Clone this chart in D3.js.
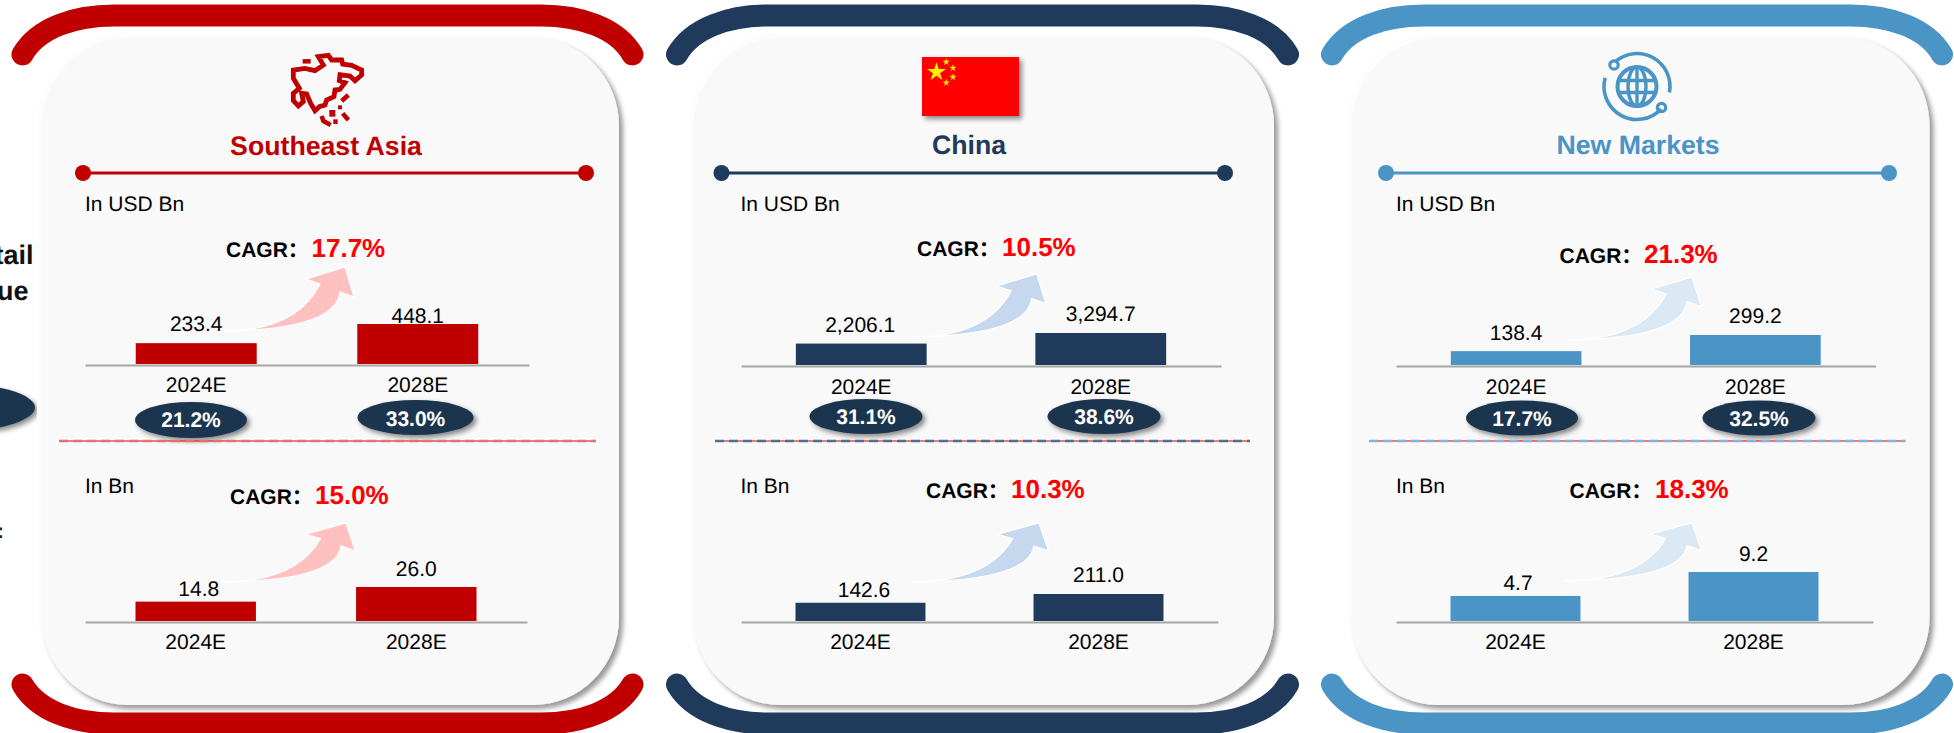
<!DOCTYPE html>
<html>
<head>
<meta charset="utf-8">
<script src="https://cdn.jsdelivr.net/npm/d3@7"></script>
<style>
html,body{margin:0;padding:0;background:#fff;overflow:hidden}
svg{display:block}
text{font-family:"Liberation Sans",Arial,"Noto Sans CJK SC",sans-serif;text-rendering:geometricPrecision}
</style>
</head>
<body>
<svg id="chart" width="1954" height="733"></svg>
<script>
// Market figures by region
const years = ["2024E", "2028E"];
const regions = ["Southeast Asia", "China", "New Markets"];
const gmvUsdBn = [[233.4, 448.1], [2206.1, 3294.7], [138.4, 299.2]];
const gmvCagr = ["17.7%", "10.5%", "21.3%"];
const penetration = [["21.2%", "33.0%"], ["31.1%", "38.6%"], ["17.7%", "32.5%"]];
const buyersBn = [[14.8, 26.0], [142.6, 211.0], [4.7, 9.2]];
const buyersCagr = ["15.0%", "10.3%", "18.3%"];

// Panel colours
const mainColors = ["#c00000", "#1f3a5a", "#4a94c6"];
const arrowColors = ["#ffc0c0", "#c5d8ee", "#dbe9f4"];
const dashColors = ["#e86f70", "#4f6f92", "#7fb6de"];

// Panel geometry
const panels = [
  { card: [42, 619], bracket: [22.5, 632.5], titleX: 326, titleY: 155, rule: [83, 586], dash: [59, 596], unitX: 85,
    upper: { axis: [85, 529], axisY: 365, barMax: 40, tickPad: 12, cagr: [226, 311.5, 257], arrow: [223, 331, 345, 267],
      lift: [12, 1], labelDx: [0, 0], ovals: [[191, 420, 56, 18, 427], [415.5, 417.5, 58, 17.5, 426]] },
    lower: { axis: [85, 527], axisY: 622, barMax: 34, tickPad: 12, cagr: [230, 315, 504], arrow: [221, 582, 346, 523],
      lift: [5.6, 11], labelDx: [3, 0] } },
  { card: [694, 1274], bracket: [677, 1288], titleX: 969, titleY: 154, rule: [721.5, 1225], dash: [715, 1250], unitX: 740.5,
    upper: { axis: [741, 1221], axisY: 366, barMax: 32, tickPad: 13, cagr: [917, 1002, 256], arrow: [912.5, 337, 1036.7, 274],
      lift: [11.6, 12], labelDx: [-1, 0], ovals: [[866, 416.5, 56.5, 17.5, 424], [1104, 416.5, 56.5, 17.5, 424]] },
    lower: { axis: [741, 1218], axisY: 622, barMax: 27, tickPad: 12, cagr: [926, 1011, 498], arrow: [910.5, 582, 1039, 523],
      lift: [5.8, 12], labelDx: [3.5, 0] } },
  { card: [1352, 1929.5], bracket: [1332, 1942], titleX: 1638, titleY: 154, rule: [1386, 1889], dash: [1369, 1905.5], unitX: 1396,
    upper: { axis: [1396, 1875.5], axisY: 366, barMax: 30, tickPad: 13, cagr: [1559.5, 1644, 263], arrow: [1567, 340, 1692, 277],
      lift: [11, 12], labelDx: [0, 0], ovals: [[1522, 418, 56, 17.5, 426], [1759, 418, 56.5, 17.5, 426]] },
    lower: { axis: [1396, 1873], axisY: 622, barMax: 49, tickPad: 12, cagr: [1569.5, 1655, 498], arrow: [1563.5, 581, 1692, 523],
      lift: [6, 11], labelDx: [2.5, 0] } }
];

const svg = d3.select("#chart");
const defs = svg.append("defs");

// Soft shadows for the cards, the ovals and the flag
function shadow(id, dx, dy, blur, opacity) {
  defs.append("filter").attr("id", id)
    .attr("x", "-20%").attr("y", "-20%").attr("width", "140%").attr("height", "140%")
    .append("feDropShadow")
    .attr("dx", dx).attr("dy", dy).attr("stdDeviation", blur)
    .attr("flood-color", "#000").attr("flood-opacity", opacity);
}
shadow("cardShadow", 4, 4, 2.5, 0.4);
shadow("ovalShadow", 3, 3, 2.5, 0.45);

// Growth arrows fade in from white at the tail
arrowColors.forEach((c, i) => {
  const g = defs.append("linearGradient").attr("id", "arrowFill" + i)
    .attr("x1", 0).attr("y1", 0).attr("x2", 1).attr("y2", 0);
  g.append("stop").attr("offset", 0).attr("stop-color", "#fff");
  g.append("stop").attr("offset", 0.12).attr("stop-color", c);
});

// Text that runs in from the neighbouring section at the left edge
const edge = svg.append("g");
edge.selectAll("text.lead").data(["Retail", "Revenue"]).join("text")
  .attr("class", "lead").attr("x", (d, i) => i ? 28.5 : 33.5).attr("y", (d, i) => i ? 300 : 264)
  .attr("text-anchor", "end").attr("font-weight", 700).attr("font-size", 27).attr("fill", "#111").text(d => d);
edge.append("ellipse").attr("cx", -55).attr("cy", 407.5).attr("rx", 90).attr("ry", 25)
  .attr("fill", "#1f3650").attr("filter", "url(#ovalShadow)");
edge.append("text").attr("x", -3).attr("y", 538).attr("font-size", 21).attr("font-weight", 700).attr("fill", "#222").text(":");

// Curved brace above and below a card
function bracePath(x0, x1, yEnd, yFlat) {
  const k = yFlat < yEnd ? 1 : -1;
  const f = d3.path();
  f.moveTo(x0, yEnd);
  f.bezierCurveTo(x0 + 15.5, yEnd - 27 * k, x0 + 52.5, yFlat, x0 + 91.5, yFlat);
  f.lineTo(x1 - 91.5, yFlat);
  f.bezierCurveTo(x1 - 52.5, yFlat, x1 - 15.5, yEnd - 27 * k, x1, yEnd);
  return f.toString();
}

// Tapered arrow, its outline given as fractions of the tail-to-tip box
function arrowPath([tx, ty, px, py]) {
  const X = u => tx + u * (px - tx);
  const Y = v => ty - v * (ty - py);
  const f = d3.path();
  f.moveTo(X(0), Y(0));
  f.quadraticCurveTo(X(0.6), Y(0), X(0.795), Y(0.734));
  f.lineTo(X(0.677), Y(0.81));
  f.lineTo(X(1), Y(1));
  f.lineTo(X(1.074), Y(0.53));
  f.lineTo(X(0.96), Y(0.61));
  f.quadraticCurveTo(X(0.92), Y(0.02), X(0), Y(0));
  f.closePath();
  return f.toString();
}

// One bar pair with its axis, value labels, arrow and growth rate
function drawSection(g, s, values, cagr, idx) {
  const x = d3.scaleBand().domain(years).range(s.axis).paddingInner(0.454).paddingOuter(0.229);
  const y = d3.scaleLinear().domain([0, d3.max(values)]).range([s.axisY - 1, s.axisY - 1 - s.barMax]);
  const rows = years.map((yr, i) => ({ yr, v: values[i], i }));

  g.selectAll("rect.bar").data(rows).join("rect").attr("class", "bar")
    .attr("x", d => x(d.yr)).attr("width", x.bandwidth())
    .attr("y", d => y(d.v)).attr("height", d => y(0) - y(d.v))
    .attr("fill", mainColors[idx]);

  const axis = g.append("g").attr("transform", `translate(0,${s.axisY})`)
    .call(d3.axisBottom(x).tickSize(0).tickSizeOuter(0).tickPadding(s.tickPad));
  axis.select(".domain").attr("stroke", "#a6a6a6").attr("stroke-width", 2);
  axis.selectAll("text").attr("font-size", 21).attr("fill", "#000")
    .style("font-family", '"Liberation Sans",Arial,sans-serif');

  g.selectAll("text.val").data(rows).join("text").attr("class", "val")
    .attr("x", d => x(d.yr) + x.bandwidth() / 2 + s.labelDx[d.i])
    .attr("y", d => y(d.v) - s.lift[d.i])
    .attr("text-anchor", "middle").attr("font-size", 21).attr("fill", "#000")
    .text(d => d3.format(",.1f")(d.v));

  g.append("path").attr("d", arrowPath(s.arrow))
    .attr("fill", `url(#arrowFill${idx})`).attr("stroke", "#fff").attr("stroke-width", 1.2);

  g.append("text").attr("x", s.cagr[0]).attr("y", s.cagr[2])
    .attr("font-size", 21).attr("font-weight", 700).attr("fill", "#000").text("CAGR：");
  g.append("text").attr("x", s.cagr[1]).attr("y", s.cagr[2])
    .attr("font-size", 26).attr("font-weight", 700).attr("fill", "#ff0000").text(cagr);
}

// Southeast Asia outline icon
function drawAsiaIcon(g, color) {
  const px = ([a, b]) => [260 + a / 3, 40 + b / 3];
  const outline = [[175,50],[205,46],[215,60],[245,60],[248,72],[275,76],[305,90],[305,105],[285,122],[270,108],
    [240,104],[238,122],[255,128],[240,148],[225,150],[222,170],[200,180],[195,195],[178,200],[165,212],[152,190],
    [140,162],[125,160],[130,185],[115,198],[100,182],[100,160],[118,145],[100,115],[100,90],[135,85],[165,92],[190,75]];
  g.append("path").attr("d", d3.line()(outline.map(px)) + "Z")
    .attr("fill", "none").attr("stroke", color).attr("stroke-width", 4.8).attr("stroke-linejoin", "miter");
  const strokes = [[[128,64],[152,64]], [[265,165],[245,183]], [[185,228],[190,243],[212,255]], [[248,220],[265,240]]];
  g.selectAll("path.isle").data(strokes).join("path").attr("class", "isle")
    .attr("d", d => d3.line()(d.map(px))).attr("fill", "none").attr("stroke", color).attr("stroke-width", 4.5);
  const blocks = [[234,196,12,12], [208,210,18,20], [220,238,13,14]];
  g.selectAll("rect.isleBlock").data(blocks).join("rect").attr("class", "isleBlock")
    .attr("x", d => 260 + d[0] / 3).attr("y", d => 40 + d[1] / 3)
    .attr("width", d => d[2] / 3).attr("height", d => d[3] / 3).attr("fill", color);
}

// National flag with its five stars
function drawFlag(g) {
  const star = d3.symbol().type(d3.symbolStar);
  g.append("rect").attr("x", 922).attr("y", 57).attr("width", 97).attr("height", 59)
    .attr("fill", "#ff0000").attr("filter", "url(#ovalShadow)");
  const stars = [[936.5, 72, 110], [946.2, 62, 16], [953, 68, 16], [953, 77, 16], [946.2, 82.7, 16]];
  g.selectAll("path.star").data(stars).join("path").attr("class", "star")
    .attr("d", d => star.size(d[2])())
    .attr("transform", d => `translate(${d[0]},${d[1]})`).attr("fill", "#ffef00");
}

// Globe with an orbit ring and two small nodes
function drawGlobeIcon(g, color) {
  const c = g.append("g").attr("transform", "translate(1637,86.5)")
    .attr("fill", "none").attr("stroke", color).attr("stroke-width", 3.6);
  c.append("circle").attr("r", 19.5).attr("stroke-width", 4);
  c.append("ellipse").attr("rx", 9).attr("ry", 19.5).attr("stroke-width", 3.4);
  c.append("line").attr("x1", 0).attr("x2", 0).attr("y1", -19.5).attr("y2", 19.5).attr("stroke-width", 3.4);
  c.append("line").attr("x1", -19.5).attr("x2", 19.5).attr("y1", -6).attr("y2", -6).attr("stroke-width", 3.4);
  c.append("line").attr("x1", -19.5).attr("x2", 19.5).attr("y1", 6).attr("y2", 6).attr("stroke-width", 3.4);
  const arc = d3.arc().innerRadius(33).outerRadius(33);
  c.append("path").attr("d", arc({ startAngle: -0.72, endAngle: 1.75 }));
  c.append("path").attr("d", arc({ startAngle: 2.32, endAngle: 4.98 }));
  [[-23, -21.5], [24.5, 21]].forEach(([a, b]) =>
    c.append("circle").attr("cx", a).attr("cy", b).attr("r", 4.2).attr("stroke-width", 3.2));
}

panels.forEach((p, i) => {
  const color = mainColors[i];
  const g = svg.append("g");

  g.selectAll("path.brace").data([[54.5, 15.5], [684.5, 723.5]]).join("path").attr("class", "brace")
    .attr("d", d => bracePath(p.bracket[0], p.bracket[1], d[0], d[1]))
    .attr("fill", "none").attr("stroke", color).attr("stroke-width", 22).attr("stroke-linecap", "round");

  // Pale rim that the card sits on, then the card
  g.append("rect").attr("x", p.card[0] - 5).attr("y", 33)
    .attr("width", p.card[1] - p.card[0] + 5).attr("height", 672).attr("rx", 90).attr("ry", 92)
    .attr("fill", "#fdfdfd");
  g.append("rect").attr("x", p.card[0]).attr("y", 38)
    .attr("width", p.card[1] - p.card[0]).attr("height", 667).attr("rx", 86).attr("ry", 88)
    .attr("fill", "#f9f9f9").attr("filter", "url(#cardShadow)");

  if (i === 0) drawAsiaIcon(g, color);
  if (i === 1) drawFlag(g);
  if (i === 2) drawGlobeIcon(g, color);

  g.append("text").attr("x", p.titleX).attr("y", p.titleY).attr("text-anchor", "middle")
    .attr("font-size", 26.7).attr("font-weight", 700).attr("fill", color).text(regions[i]);

  g.append("line").attr("x1", p.rule[0]).attr("x2", p.rule[1]).attr("y1", 173).attr("y2", 173)
    .attr("stroke", color).attr("stroke-width", 3);
  g.selectAll("circle.end").data(p.rule).join("circle").attr("class", "end")
    .attr("cx", d => d).attr("cy", 173).attr("r", 8).attr("fill", color);

  g.append("text").attr("x", p.unitX).attr("y", 211).attr("font-size", 21).attr("fill", "#000").text("In USD Bn");
  g.append("text").attr("x", p.unitX).attr("y", 493).attr("font-size", 21).attr("fill", "#000").text("In Bn");

  drawSection(g.append("g"), p.upper, gmvUsdBn[i], gmvCagr[i], i);
  drawSection(g.append("g"), p.lower, buyersBn[i], buyersCagr[i], i);

  // Penetration ovals
  const ov = g.selectAll("g.oval").data(p.upper.ovals).join("g").attr("class", "oval");
  ov.append("ellipse").attr("cx", d => d[0]).attr("cy", d => d[1]).attr("rx", d => d[2]).attr("ry", d => d[3])
    .attr("fill", "#1f3650").attr("filter", "url(#ovalShadow)");
  ov.append("text").attr("x", d => d[0]).attr("y", d => d[4]).attr("text-anchor", "middle")
    .attr("font-size", 21).attr("font-weight", 700).attr("fill", "#fff")
    .text((d, k) => penetration[i][k]);

  // Section separator: thin red line under a paler dashed one
  g.append("line").attr("x1", p.dash[0]).attr("x2", p.dash[1]).attr("y1", 441).attr("y2", 441)
    .attr("stroke", "#e00000").attr("stroke-width", 1);
  g.append("line").attr("x1", p.dash[0]).attr("x2", p.dash[1]).attr("y1", 441).attr("y2", 441)
    .attr("stroke", dashColors[i]).attr("stroke-width", 2.5).attr("stroke-dasharray", "9 5");
});
</script>
</body>
</html>
